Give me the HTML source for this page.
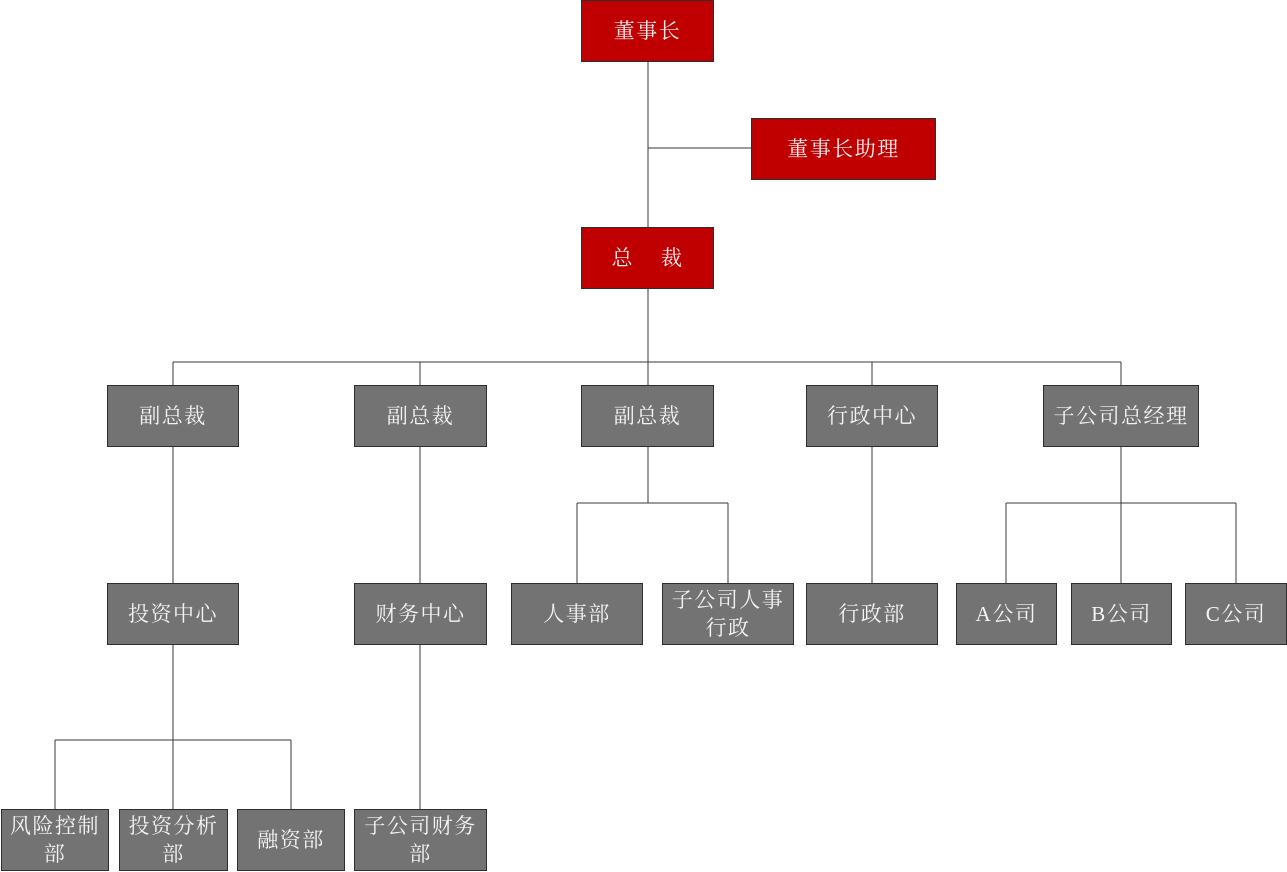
<!DOCTYPE html>
<html>
<head>
<meta charset="utf-8">
<style>
html,body{margin:0;padding:0;background:#fff;}
body{width:1287px;height:872px;position:relative;overflow:hidden;font-family:"Liberation Serif","Noto Serif CJK SC",serif;}
.b{position:absolute;box-sizing:border-box;border:1px solid #2e2e2e;display:flex;align-items:center;justify-content:center;text-align:center;color:#f4f4f4;font-size:21px;line-height:28px;letter-spacing:1.5px;background:#737373;}
.r{background:#c00000;}
svg{position:absolute;left:0;top:0;}
</style>
</head>
<body>
<svg width="1287" height="872" viewBox="0 0 1287 872">
<g stroke="#3a3a3a" stroke-width="1.2" fill="none" shape-rendering="crispEdges">
<line x1="648" y1="62" x2="648" y2="227"/>
<line x1="648" y1="148" x2="751" y2="148"/>
<line x1="648" y1="288" x2="648" y2="362"/>
<line x1="173" y1="362" x2="1121" y2="362"/>
<line x1="173" y1="362" x2="173" y2="385"/>
<line x1="420" y1="362" x2="420" y2="385"/>
<line x1="648" y1="362" x2="648" y2="385"/>
<line x1="872" y1="362" x2="872" y2="385"/>
<line x1="1121" y1="362" x2="1121" y2="385"/>
<line x1="173" y1="447" x2="173" y2="583"/>
<line x1="420" y1="447" x2="420" y2="583"/>
<line x1="648" y1="447" x2="648" y2="503"/>
<line x1="577" y1="503" x2="728" y2="503"/>
<line x1="577" y1="503" x2="577" y2="583"/>
<line x1="728" y1="503" x2="728" y2="583"/>
<line x1="872" y1="447" x2="872" y2="583"/>
<line x1="1121" y1="447" x2="1121" y2="583"/>
<line x1="1006" y1="503" x2="1236" y2="503"/>
<line x1="1006" y1="503" x2="1006" y2="583"/>
<line x1="1236" y1="503" x2="1236" y2="583"/>
<line x1="173" y1="645" x2="173" y2="809"/>
<line x1="55" y1="740" x2="291" y2="740"/>
<line x1="55" y1="740" x2="55" y2="809"/>
<line x1="291" y1="740" x2="291" y2="809"/>
<line x1="420" y1="645" x2="420" y2="809"/>
</g>
</svg>

<div class="b r" style="left:581px;top:0;width:133px;height:62px;">董事长</div>
<div class="b r" style="left:751px;top:118px;width:185px;height:62px;">董事长助理</div>
<div class="b r" style="left:581px;top:227px;width:133px;height:62px;">总&nbsp;&nbsp;&nbsp;&nbsp;裁</div>

<div class="b" style="left:107px;top:385px;width:132px;height:62px;">副总裁</div>
<div class="b" style="left:354px;top:385px;width:133px;height:62px;">副总裁</div>
<div class="b" style="left:581px;top:385px;width:133px;height:62px;">副总裁</div>
<div class="b" style="left:806px;top:385px;width:132px;height:62px;">行政中心</div>
<div class="b" style="left:1043px;top:385px;width:156px;height:62px;">子公司总经理</div>

<div class="b" style="left:107px;top:583px;width:132px;height:62px;">投资中心</div>
<div class="b" style="left:354px;top:583px;width:133px;height:62px;">财务中心</div>
<div class="b" style="left:511px;top:583px;width:132px;height:62px;">人事部</div>
<div class="b" style="left:662px;top:583px;width:132px;height:62px;">子公司人事<br>行政</div>
<div class="b" style="left:806px;top:583px;width:132px;height:62px;">行政部</div>
<div class="b" style="left:956px;top:583px;width:101px;height:62px;">A公司</div>
<div class="b" style="left:1071px;top:583px;width:101px;height:62px;">B公司</div>
<div class="b" style="left:1185px;top:583px;width:102px;height:62px;">C公司</div>

<div class="b" style="left:1px;top:809px;width:108px;height:62px;">风险控制<br>部</div>
<div class="b" style="left:119px;top:809px;width:109px;height:62px;">投资分析<br>部</div>
<div class="b" style="left:237px;top:809px;width:108px;height:62px;">融资部</div>
<div class="b" style="left:354px;top:809px;width:133px;height:62px;">子公司财务<br>部</div>
</body>
</html>
